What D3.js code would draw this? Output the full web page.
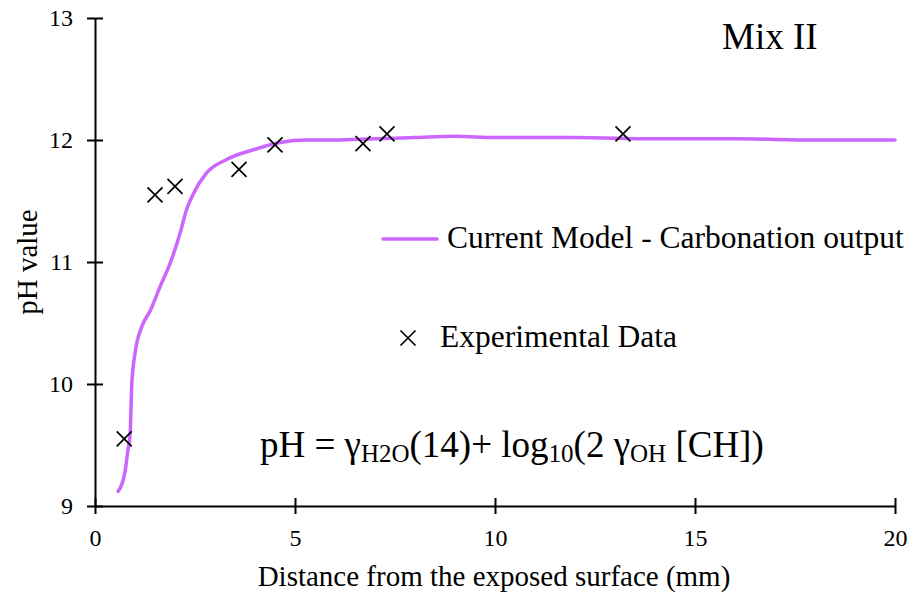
<!DOCTYPE html>
<html>
<head>
<meta charset="utf-8">
<script src="https://cdn.jsdelivr.net/npm/d3@7"></script>
<style>
  body { margin: 0; background: #fff; }
  text { font-family: "Liberation Serif", "Times New Roman", serif; fill: #000; }
</style>
</head>
<body>
<div id="chart"></div>
<script>
// model curve (distance mm, pH)
const modelX = [0.58, 0.75, 0.82, 0.88, 0.92, 1.0, 1.17, 1.38, 1.63, 1.88, 2.13, 2.29, 2.46, 2.79, 3.29, 3.96, 4.63, 5.29, 6.0, 7.0, 8.0, 9.0, 10.0, 12.0, 14.0, 16.0, 18.0, 20.0];
const modelY = [9.12, 9.28, 9.45, 9.6, 10.0, 10.25, 10.47, 10.6, 10.8, 10.99, 11.24, 11.43, 11.56, 11.73, 11.84, 11.92, 11.98, 12.0, 12.0, 12.01, 12.02, 12.03, 12.02, 12.02, 12.01, 12.01, 12.0, 12.0];

// experimental points
const expX = [0.73, 1.5, 2.0, 3.6, 4.5, 6.7, 7.3, 13.2];
const expY = [9.55, 11.55, 11.62, 11.76, 11.96, 11.97, 12.05, 12.05];

const xTicks = [0, 5, 10, 15, 20];
const yTicks = [9, 10, 11, 12, 13];

const W = 918, H = 595;
const svg = d3.select("#chart").append("svg")
    .attr("width", W)
    .attr("height", H);

const x = d3.scaleLinear().domain([0, 20]).range([95, 895]);
const y = d3.scaleLinear().domain([9, 13]).range([506, 18]);

// axes
const xAxis = svg.append("g")
    .attr("transform", `translate(0,${y(9)})`)
    .call(d3.axisBottom(x).tickValues(xTicks).tickFormat(d3.format("d"))
        .tickSize(8).tickPadding(15).tickSizeOuter(0));
xAxis.selectAll(".tick line").attr("y1", -8);

const yAxis = svg.append("g")
    .attr("transform", `translate(${x(0)},0)`)
    .call(d3.axisLeft(y).tickValues(yTicks).tickFormat(d3.format("d"))
        .tickSize(8).tickPadding(14).tickSizeOuter(0));
yAxis.selectAll(".tick line").attr("x1", 8);

[xAxis, yAxis].forEach(a => {
    a.attr("font-family", null).attr("font-size", null);
    a.select(".domain").attr("stroke", "#000").attr("stroke-width", 2);
    a.selectAll(".tick line").attr("stroke", "#000").attr("stroke-width", 2);
    a.selectAll(".tick text")
        .style("font-family", '"Liberation Serif", serif')
        .style("font-size", "24px")
        .attr("fill", "#000");
});

// model line
const line = d3.line()
    .x(d => x(d[0]))
    .y(d => y(d[1]))
    .curve(d3.curveMonotoneX);

svg.append("path")
    .datum(d3.zip(modelX, modelY))
    .attr("fill", "none")
    .attr("stroke", "#cc66ff")
    .attr("stroke-width", 3.5)
    .attr("stroke-linecap", "round")
    .attr("d", line);

// experimental markers
const s = 7.5;
const cross = (g, cx, cy) => {
    g.append("path")
        .attr("d", `M${cx - s},${cy - s}L${cx + s},${cy + s}M${cx - s},${cy + s}L${cx + s},${cy - s}`)
        .attr("stroke", "#000")
        .attr("stroke-width", 1.7)
        .attr("fill", "none");
};
const marks = svg.append("g");
d3.zip(expX, expY).forEach(d => cross(marks, x(d[0]), y(d[1])));

// axis titles
svg.append("text")
    .attr("x", 494)
    .attr("y", 586)
    .attr("text-anchor", "middle")
    .style("font-size", "29px")
    .text("Distance from the exposed surface (mm)");

svg.append("text")
    .attr("transform", "translate(37,262) rotate(-90)")
    .attr("text-anchor", "middle")
    .style("font-size", "29px")
    .text("pH value");

// Mix label
svg.append("text")
    .attr("x", 722)
    .attr("y", 49)
    .style("font-size", "37px")
    .text("Mix II");

// legend
svg.append("line")
    .attr("x1", 383).attr("x2", 437)
    .attr("y1", 239).attr("y2", 239)
    .attr("stroke", "#cc66ff")
    .attr("stroke-width", 3.5)
    .attr("stroke-linecap", "round");
svg.append("text")
    .attr("x", 447).attr("y", 248)
    .style("font-size", "31.5px")
    .text("Current Model - Carbonation output");

cross(svg, 408, 338);
svg.append("text")
    .attr("x", 440).attr("y", 347)
    .style("font-size", "31.5px")
    .text("Experimental Data");

// formula
const f = svg.append("text")
    .attr("x", 260).attr("y", 457)
    .style("font-size", "37px");
f.append("tspan").text("pH = γ");
f.append("tspan").attr("dy", 5).style("font-size", "25px").text("H2O");
f.append("tspan").attr("dy", -5).text("(14)+ log");
f.append("tspan").attr("dy", 5).style("font-size", "25px").text("10");
f.append("tspan").attr("dy", -5).text("(2 γ");
f.append("tspan").attr("dy", 5).style("font-size", "25px").text("OH");
f.append("tspan").attr("dy", -5).text(" [CH])");
</script>
</body>
</html>
